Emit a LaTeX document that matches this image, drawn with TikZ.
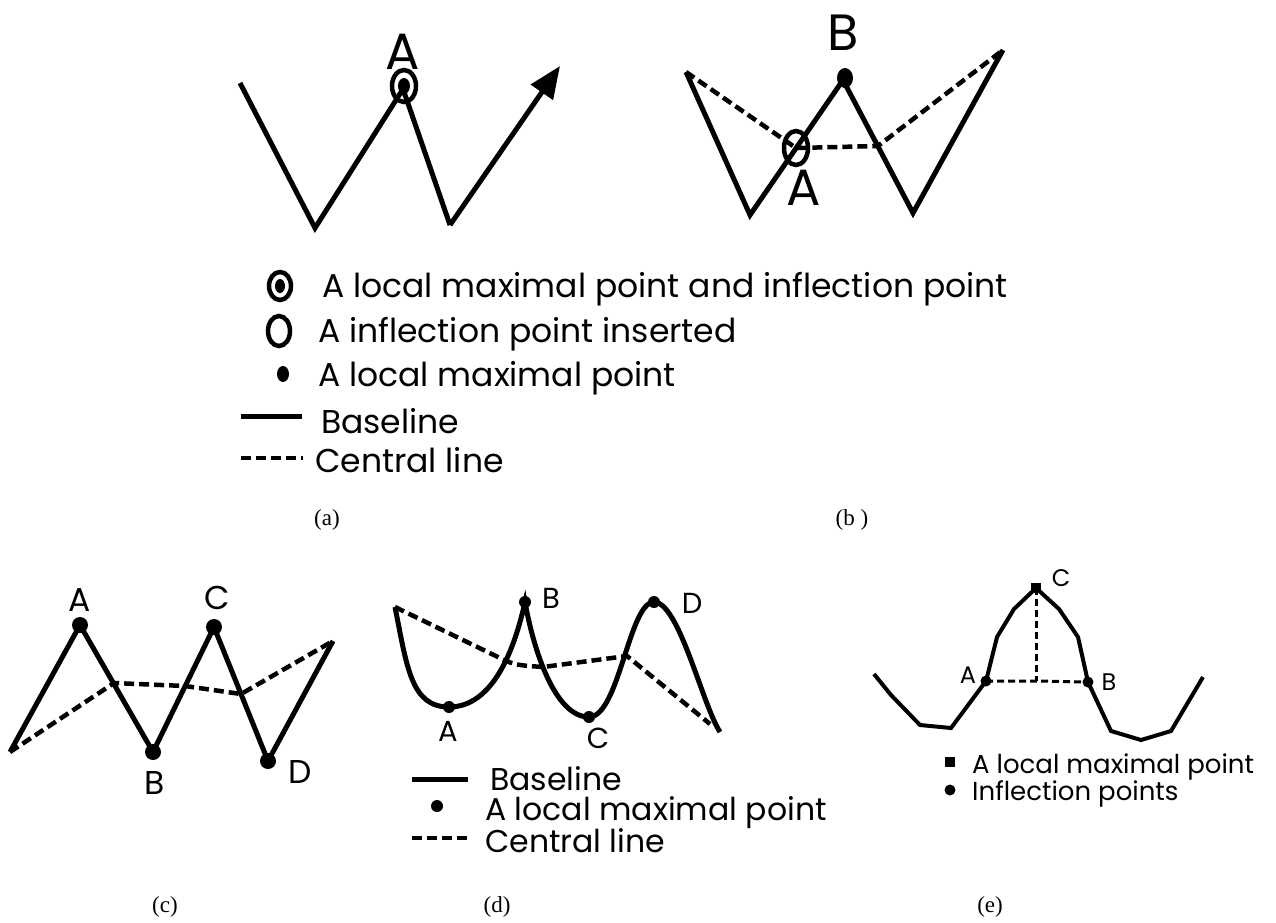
\documentclass[tikz,border=0pt]{standalone}
\usepackage{fontspec}
\setmainfont{Poppins}
\newfontfamily\capfont{Liberation Serif}
\usetikzlibrary{arrows.meta}

\tikzset{
  base/.style={line width=5pt},
  central/.style={line width=4.5pt, dash pattern=on 10pt off 5pt},
  ring/.style={line width=4.5pt},
  biglab/.style={inner sep=0pt, font=\fontsize{51}{56}\selectfont},
  lab/.style={inner sep=0pt, font=\fontsize{33}{38}\selectfont},
  smalllab/.style={inner sep=0pt, font=\fontsize{29}{32}\selectfont},
  tinylab/.style={inner sep=0pt, font=\fontsize{24}{28}\selectfont},
  legend/.style={inner sep=0pt, anchor=base west, font=\fontsize{33}{38}\selectfont},
  legendd/.style={inner sep=0pt, anchor=base west, font=\fontsize{31.5}{36}\selectfont},
  legende/.style={inner sep=0pt, anchor=base west, font=\fontsize{26}{30}\selectfont},
  caption/.style={inner sep=0pt, font=\capfont\fontsize{23}{26}\selectfont}
}

\begin{document}
\begin{tikzpicture}[x=1pt, y=-1pt]
\useasboundingbox (0,0) rectangle (1276,922);

% (a)
\coordinate (a1) at (240,83);
\coordinate (a2) at (315,228);
\coordinate (a3) at (403,89);
\coordinate (a4) at (450,225);
\coordinate (a5) at (560,66);
\coordinate (aA) at (404,86);
\draw[base](a1)to(a2)to(a3)to(a4);
\draw[base,-{Triangle[length=32pt,width=26pt]}](a4)to(a5);
\draw[ring](aA)ellipse[x radius=12pt, y radius=16pt];
\fill(aA)ellipse[x radius=6pt, y radius=8pt];
\node[biglab] (labaA) at (403,52) {A};

% (b)
\coordinate (b1) at (686,72);
\coordinate (b2) at (750,215);
\coordinate (b3) at (843,80);
\coordinate (b4) at (913,213);
\coordinate (b5) at (1003,50);
\coordinate (bI) at (796,148);
\coordinate (bM) at (878,146);
\draw[base](b1)to(b2)to(b3)to(b4)to(b5);
\draw[central](b1)to(bI)to(bM)to(b5);
\draw[ring](bI)ellipse[x radius=12pt, y radius=17pt];
\fill(845,78)ellipse[x radius=8pt, y radius=10pt];
\node[biglab] (labbB) at (843,33) {B};
\node[biglab] (labbA) at (804,188) {A};

% legend of (a) and (b)
\draw[ring](280,286)ellipse[x radius=11pt, y radius=14pt];
\fill(280,286)ellipse[x radius=5pt, y radius=7pt];
\node[legend] (leg1) at (322,297) {A local maximal point and inflection point};
\draw[ring](279,331)ellipse[x radius=11pt, y radius=15pt];
\node[legend] (leg2) at (318,342) {A inflection point inserted};
\fill(283,374)ellipse[x radius=6pt, y radius=8pt];
\node[legend] (leg3) at (318,386) {A local maximal point};
\coordinate (s1) at (241,416);
\coordinate (s2) at (302,416);
\draw[base](s1)to(s2);
\node[legend] (leg4) at (321,433) {Baseline};
\coordinate (t1) at (241,458);
\coordinate (t2) at (303,458);
\draw[central](t1)to(t2);
\node[legend] (leg5) at (315,472) {Central line};

\node[caption] (capa) at (327,520) {(a)};
\node[caption] (capb) at (852,520) {(b )};

% (c)
\coordinate (c0) at (10,752);
\coordinate (cA) at (80,625);
\coordinate (cB) at (153,752);
\coordinate (cC) at (214,627);
\coordinate (cD) at (268,761);
\coordinate (c5) at (333,641);
\coordinate (cm1) at (114,683);
\coordinate (cm2) at (185,686);
\coordinate (cm3) at (241,694);
\draw[base](c0)to(cA)to(cB)to(cC)to(cD)to(c5);
\draw[central](c0)to(cm1)to(cm2)to(cm3)to(c5);
\fill(cA)circle(8pt);
\fill(cB)circle(8pt);
\fill(cC)circle(8pt);
\fill(cD)circle(8pt);
\node[lab] (labcA) at (80,600) {A};
\node[lab] (labcB) at (155,783) {B};
\node[lab] (labcC) at (217,598) {C};
\node[lab] (labcD) at (300,772) {D};
\node[caption] (capc) at (165,907) {(c)};

% (d)
\coordinate (d0) at (395,607);
\coordinate (dA) at (449,707);
\coordinate (dB) at (525,602);
\coordinate (dC) at (589,717);
\coordinate (dD) at (654,602);
\coordinate (d5) at (720,732);
\coordinate (dm1) at (500,658);
\coordinate (dm2) at (543,667);
\coordinate (dm3) at (627,656);
\coordinate (dm4) at (710,724);
\draw[base](d0) .. controls +(12,60) and +(-38,0) .. (dA)
  .. controls +(45,0) and +(-10,45) .. (dB)
  .. controls +(8,45) and +(-35,0) .. (dC)
  .. controls +(30,0) and +(-25,0) .. (dD)
  .. controls +(25,0) and +(-18,-28) .. (d5);
\draw[central](d0)to(dm1) .. controls +(15,7) .. (dm2)to(dm3)to(dm4);
\fill(dA)circle(6pt);
\fill(dB)circle(6pt);
\fill(dC)circle(6pt);
\fill(dD)circle(6pt);
\node[smalllab] (labdB) at (551,598) {B};
\node[smalllab] (labdD) at (692,603) {D};
\node[smalllab] (labdA) at (448,731) {A};
\node[smalllab] (labdC) at (598,738) {C};

\coordinate (u1) at (412,779);
\coordinate (u2) at (468,779);
\draw[base](u1)to(u2);
\node[legendd] (legd1) at (490,790) {Baseline};
\fill(437,806)circle(6pt);
\node[legendd] (legd2) at (485,820) {A local maximal point};
\coordinate (v1) at (412,838);
\coordinate (v2) at (471,838);
\draw[central](v1)to(v2);
\node[legendd] (legd3) at (485,852) {Central line};
\node[caption] (capd) at (497,907) {(d)};

% (e)
\coordinate (e1) at (874,674);
\coordinate (e2) at (891,695);
\coordinate (e3) at (920,725);
\coordinate (e4) at (951,728);
\coordinate (eA) at (986,681);
\coordinate (e5) at (997,637);
\coordinate (e6) at (1014,609);
\coordinate (eC) at (1036,588);
\coordinate (e7) at (1059,609);
\coordinate (e8) at (1078,637);
\coordinate (eB) at (1088,682);
\coordinate (e9) at (1111,731);
\coordinate (e10) at (1141,740);
\coordinate (e11) at (1171,731);
\coordinate (e12) at (1203,677);
\coordinate (eF) at (1036,681);
\draw[line width=4pt](e1)to(e2)to(e3)to(e4)to(eA)to(e5)to(e6)to(eC)to(e7)to(e8)to(eB)to(e9)to(e10)to(e11)to(e12);
\draw[line width=3pt, dash pattern=on 7pt off 4pt](eA)to(eF)to(eB);
\draw[line width=3pt, dash pattern=on 7pt off 4pt](eC)to(eF);
\fill(1031,583)rectangle(1041,593);
\fill(eA)circle(5.5pt);
\fill(eB)circle(5.5pt);
\node[tinylab] (labeC) at (1061,578) {C};
\node[tinylab] (labeA) at (968,675) {A};
\node[tinylab] (labeB) at (1109,682) {B};

\fill(945,757)rectangle(955,767);
\node[legende] (lege1) at (972,773) {A local maximal point};
\fill(950,790)circle(5.5pt);
\node[legende] (lege2) at (972,800) {Inflection points};
\node[caption] (cape) at (990,907) {(e)};

\end{tikzpicture}
\end{document}
